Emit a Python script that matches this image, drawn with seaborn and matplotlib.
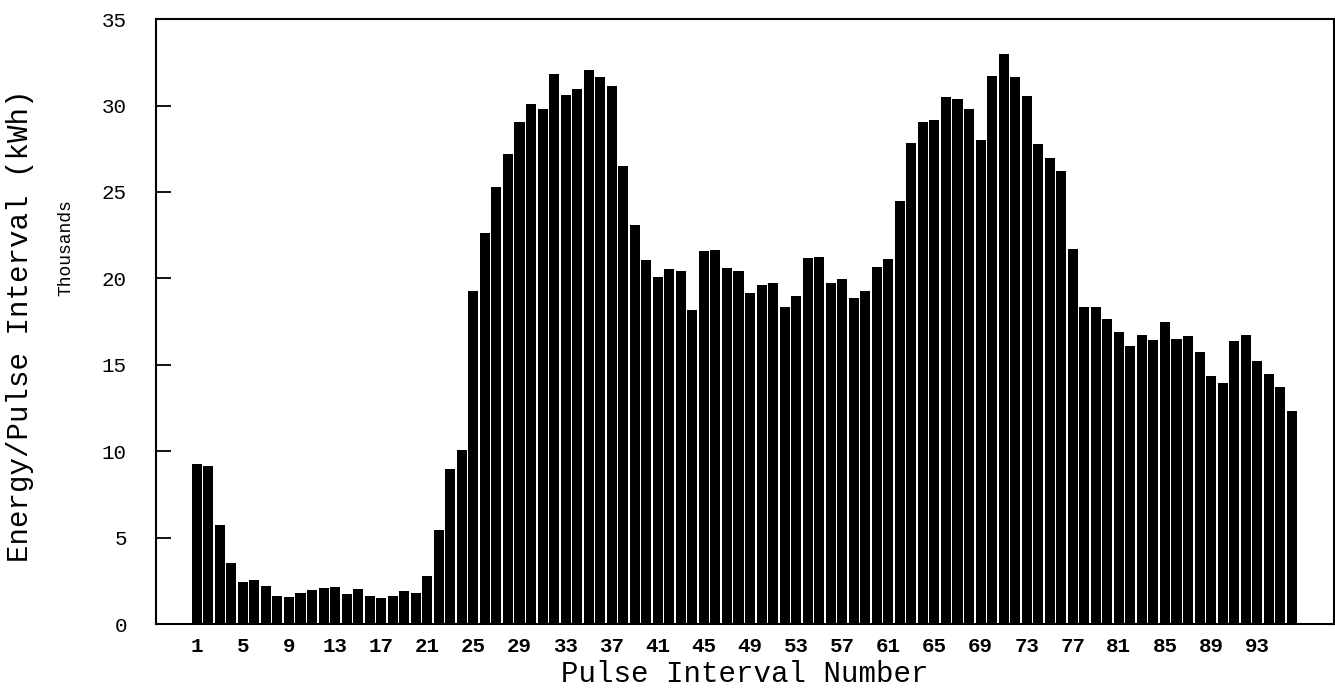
import matplotlib
matplotlib.use("Agg")
import matplotlib.pyplot as plt
import seaborn as sns
import pandas as pd

# Energy per pulse interval, thousands of kWh, intervals 1..96
interval_numbers = list(range(1, 97))
energy_thousands = [
    9.23, 9.16, 5.75, 3.51, 2.43, 2.56, 2.19, 1.63, 1.58, 1.78,
    1.95, 2.09, 2.14, 1.75, 2.02, 1.63, 1.49, 1.61, 1.92, 1.78,
    2.75, 5.43, 8.96, 10.06, 19.28, 22.64, 25.27, 27.17, 29.05, 30.10,
    29.78, 31.80, 30.58, 30.95, 32.07, 31.63, 31.14, 26.49, 23.11, 21.04,
    20.09, 20.55, 20.40, 18.19, 21.57, 21.65, 20.60, 20.40, 19.16, 19.60,
    19.75, 18.33, 18.99, 21.16, 21.23, 19.75, 19.97, 18.87, 19.24, 20.65,
    21.13, 24.47, 27.81, 29.05, 29.15, 30.48, 30.36, 29.80, 28.00, 31.68,
    32.97, 31.63, 30.56, 27.76, 26.98, 26.22, 21.72, 18.33, 18.36, 17.63,
    16.92, 16.09, 16.70, 16.46, 17.48, 16.51, 16.65, 15.75, 14.34, 13.93,
    16.36, 16.75, 15.24, 14.46, 13.71, 12.30,
]
xtick_labels = [str(n) for n in range(1, 97, 4)]
ytick_values = [0, 5, 10, 15, 20, 25, 30, 35]

df = pd.DataFrame({
    "interval": [str(n) for n in interval_numbers],
    "energy": energy_thousands,
})

sns.set_theme(style="white")
plt.rcParams["font.family"] = ["Liberation Mono", "DejaVu Sans Mono"]

fig = plt.figure(figsize=(13.35, 6.89), dpi=100)
ax = fig.add_axes([0.1169, 0.0943, 0.8824, 0.878])

sns.barplot(data=df, x="interval", y="energy", order=df["interval"].tolist(),
            color="black", saturation=1, width=0.87, linewidth=0, ax=ax)

ax.set_xlim(-3.53, 98.67)
ax.set_ylim(0, 35)

tick_pos = [interval_numbers.index(int(t)) for t in xtick_labels]
ax.set_xticks(tick_pos)
ax.set_xticklabels(xtick_labels, fontsize=15, color="black", fontweight="bold")
ax.set_yticks(ytick_values)
ax.set_yticklabels([str(v) for v in ytick_values], fontsize=15, color="black")

ax.tick_params(axis="x", length=0, pad=9)
ax.tick_params(axis="y", direction="in", length=11, width=1.3, color="black",
               pad=21, left=True)

for s in ax.spines.values():
    s.set_visible(True)
    s.set_color("black")
    s.set_linewidth(1.5)

ax.set_xlabel("")
ax.set_ylabel("")
fig.text(0.558, 0.0102, "Pulse Interval Number", ha="center", va="baseline",
         fontsize=21, color="black")
fig.text(0.021, 0.5276, "Energy/Pulse Interval (kWh)", ha="center",
         va="baseline", rotation=90, rotation_mode="anchor",
         fontsize=21, color="black")
fig.text(0.049, 0.64, "Thousands", ha="center", va="center",
         rotation=90, fontsize=13, color="black")

fig.savefig("out.png", dpi=100, facecolor="white")
